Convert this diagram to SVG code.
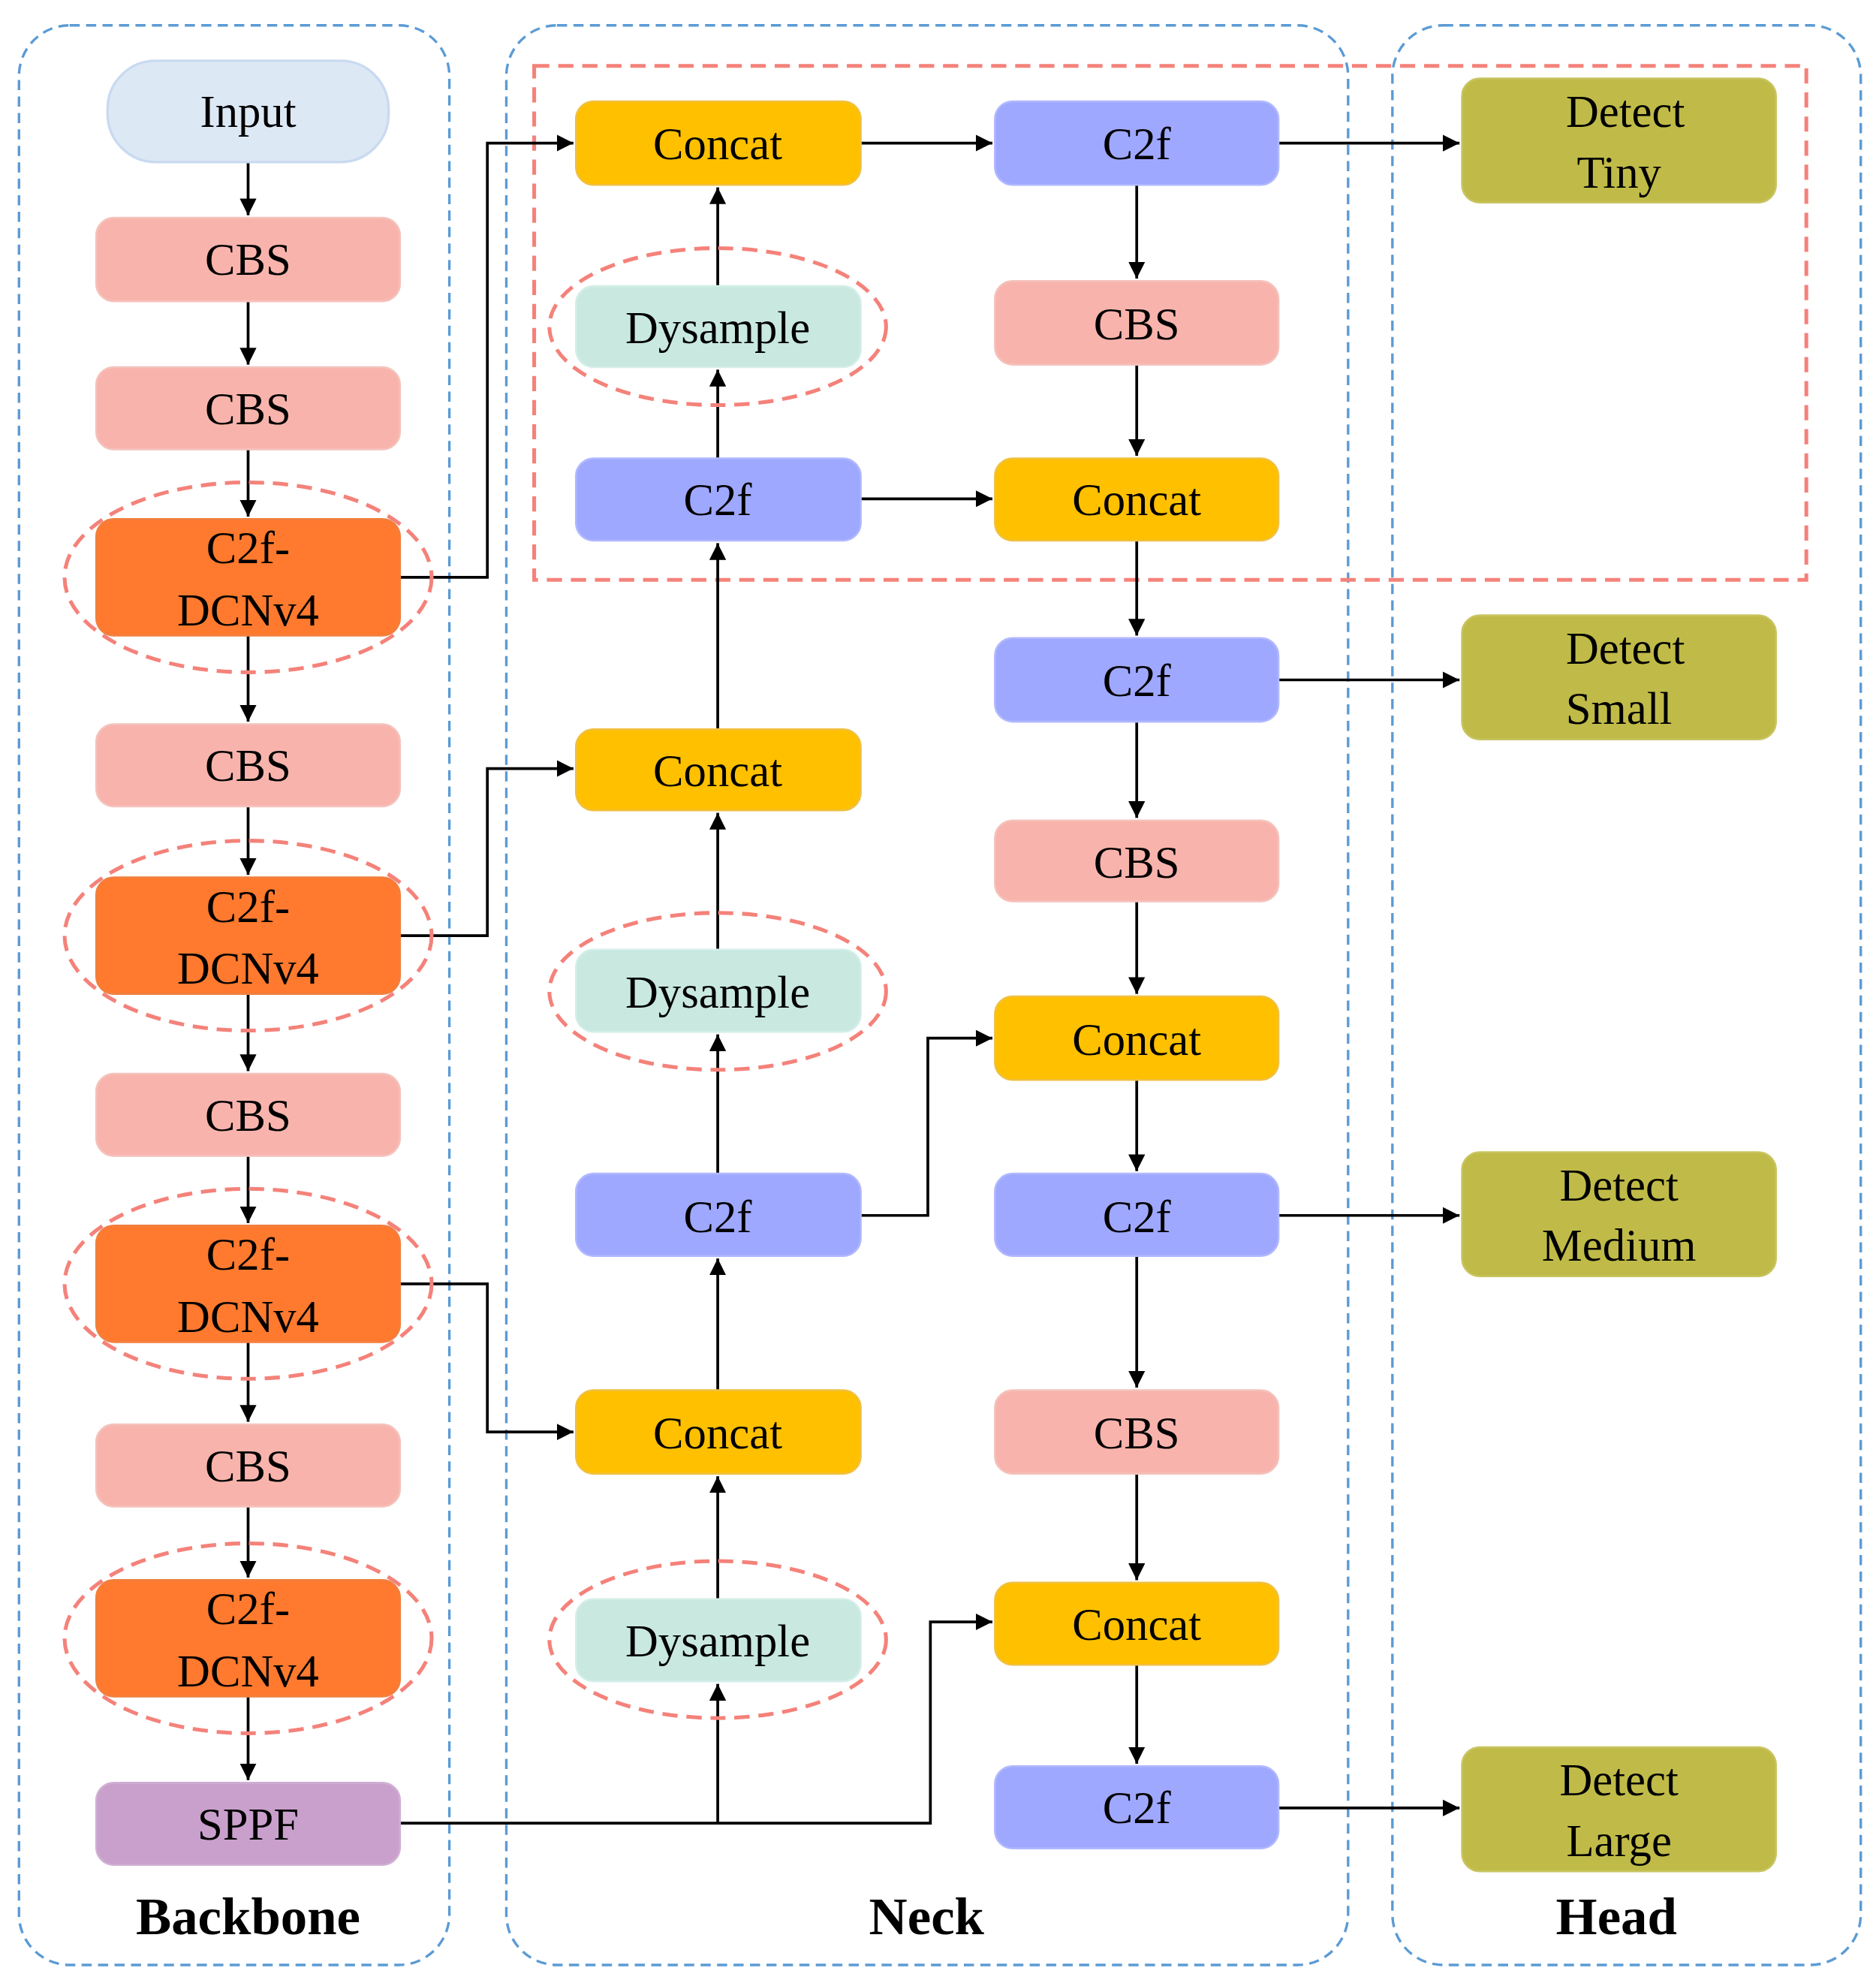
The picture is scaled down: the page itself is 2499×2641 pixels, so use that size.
<svg xmlns="http://www.w3.org/2000/svg" width="2499" height="2641" viewBox="0 0 2499 2641">
<defs>
<marker id="ah" viewBox="0 0 10 10" refX="10" refY="5" markerWidth="6" markerHeight="6" orient="auto" markerUnits="strokeWidth"><path d="M0,0 L10,5 L0,10 z" fill="#000"/></marker>
<style>
.pan{fill:none;stroke:#5b9bd5;stroke-width:2;stroke-dasharray:8,5}
.red{fill:none;stroke:#f4827a;stroke-width:3;stroke-dasharray:12,7}
.t{font-family:"Liberation Serif",serif;font-size:36px;text-anchor:middle;fill:#000}
.lb{font-family:"Liberation Serif",serif;font-size:42px;font-weight:bold;text-anchor:middle;fill:#000}
.cbs{fill:#f8b4ac;stroke:#f4c2bc;stroke-width:1.5}
.dcn{fill:#ff7a2e;stroke:#f08040;stroke-width:1.5}
.cc{fill:#ffc000;stroke:#f0c040;stroke-width:1.5}
.c2f{fill:#9fa8ff;stroke:#b0b8ff;stroke-width:1.5}
.dy{fill:#c8e8e0;stroke:#d4eee8;stroke-width:1.5}
.det{fill:#c0bb48;stroke:#c8c460;stroke-width:1.5}
.ln{fill:none;stroke:#000;stroke-width:2.2}
.ar{fill:none;stroke:#000;stroke-width:2.2;marker-end:url(#ah)}
</style>
</defs>
<rect width="2499" height="2641" fill="#fff"/>
<g transform="scale(1.6862)">
<g id="panels">
<rect class="pan" x="15" y="20" width="340" height="1532" rx="40"/>
<rect class="pan" x="400" y="20" width="665" height="1532" rx="40"/>
<rect class="pan" x="1100" y="20" width="370" height="1532" rx="40"/>
<rect class="red" x="422" y="52" width="1005" height="406"/>
<text class="lb" x="196" y="1528">Backbone</text>
<text class="lb" x="732" y="1528">Neck</text>
<text class="lb" x="1277" y="1528">Head</text>
</g>
<g id="connectors">
<path class="ar" d="M196,128 V170"/>
<path class="ar" d="M196,238 V288"/>
<path class="ar" d="M196,355 V408"/>
<path class="ar" d="M196,502 V570"/>
<path class="ar" d="M196,637 V691"/>
<path class="ar" d="M196,785 V846"/>
<path class="ar" d="M196,913 V966"/>
<path class="ar" d="M196,1060 V1123"/>
<path class="ar" d="M196,1190 V1246"/>
<path class="ar" d="M196,1340 V1406"/>
<path class="ar" d="M316,456 H385 V113 H453"/>
<path class="ar" d="M316,739 H385 V607 H453"/>
<path class="ar" d="M316,1014 H385 V1131 H453"/>
<path class="ar" d="M316,1440 H735 V1281 H784"/>
<path class="ar" d="M567,1440 V1330"/>
<path class="ar" d="M567,1263 V1166"/>
<path class="ar" d="M567,1098 V994"/>
<path class="ar" d="M567,927 V817"/>
<path class="ar" d="M567,750 V642"/>
<path class="ar" d="M567,576 V429"/>
<path class="ar" d="M567,362 V292"/>
<path class="ar" d="M567,226 V148"/>
<path class="ar" d="M680,960 H733 V820 H784"/>
<path class="ar" d="M680,394 H784"/>
<path class="ar" d="M680,113 H784"/>
<path class="ar" d="M898,146 V220"/>
<path class="ar" d="M898,288 V360"/>
<path class="ar" d="M898,427 V502"/>
<path class="ar" d="M898,570 V646"/>
<path class="ar" d="M898,712 V785"/>
<path class="ar" d="M898,853 V925"/>
<path class="ar" d="M898,992 V1096"/>
<path class="ar" d="M898,1164 V1248"/>
<path class="ar" d="M898,1315 V1393"/>
<path class="ar" d="M1010,113 H1153"/>
<path class="ar" d="M1010,537 H1153"/>
<path class="ar" d="M1010,960 H1153"/>
<path class="ar" d="M1010,1428 H1153"/>
</g>
<g id="backbone">
<g id="input"><rect x="85" y="48" width="222" height="80" rx="38" fill="#dde8f5" stroke="#c9daf0" stroke-width="2"/><text class="t" x="196" y="100">Input</text></g>
<g id="b_cbs1"><rect class="cbs" x="76" y="172" width="240" height="66" rx="14"/><text class="t" x="196" y="217">CBS</text></g>
<g id="b_cbs2"><rect class="cbs" x="76" y="290" width="240" height="65" rx="14"/><text class="t" x="196" y="335">CBS</text></g>
<g id="b_dcn1"><rect class="dcn" x="76" y="410" width="240" height="92" rx="14"/><ellipse class="red" cx="196" cy="456" rx="145" ry="75"/><text class="t" x="196" y="445">C2f-</text><text class="t" x="196" y="494">DCNv4</text></g>
<g id="b_cbs3"><rect class="cbs" x="76" y="572" width="240" height="65" rx="14"/><text class="t" x="196" y="617">CBS</text></g>
<g id="b_dcn2"><rect class="dcn" x="76" y="693" width="240" height="92" rx="14"/><ellipse class="red" cx="196" cy="739" rx="145" ry="75"/><text class="t" x="196" y="728">C2f-</text><text class="t" x="196" y="777">DCNv4</text></g>
<g id="b_cbs4"><rect class="cbs" x="76" y="848" width="240" height="65" rx="14"/><text class="t" x="196" y="893">CBS</text></g>
<g id="b_dcn3"><rect class="dcn" x="76" y="968" width="240" height="92" rx="14"/><ellipse class="red" cx="196" cy="1014" rx="145" ry="75"/><text class="t" x="196" y="1003">C2f-</text><text class="t" x="196" y="1052">DCNv4</text></g>
<g id="b_cbs5"><rect class="cbs" x="76" y="1125" width="240" height="65" rx="14"/><text class="t" x="196" y="1170">CBS</text></g>
<g id="b_dcn4"><rect class="dcn" x="76" y="1248" width="240" height="92" rx="14"/><ellipse class="red" cx="196" cy="1294" rx="145" ry="75"/><text class="t" x="196" y="1283">C2f-</text><text class="t" x="196" y="1332">DCNv4</text></g>
<g id="sppf"><rect x="76" y="1408" width="240" height="65" rx="14" fill="#c9a0cc" stroke="#d0b0d4" stroke-width="1.5"/><text class="t" x="196" y="1453">SPPF</text></g>
</g>
<g id="neck1">
<g id="n_cc1"><rect class="cc" x="455" y="80" width="225" height="66" rx="14"/><text class="t" x="567" y="126">Concat</text></g>
<g id="n_dy1"><rect class="dy" x="455" y="226" width="225" height="64" rx="14"/><ellipse class="red" cx="567" cy="258" rx="133" ry="62"/><text class="t" x="567" y="271">Dysample</text></g>
<g id="n_c2f1"><rect class="c2f" x="455" y="362" width="225" height="65" rx="14"/><text class="t" x="567" y="407">C2f</text></g>
<g id="n_cc2"><rect class="cc" x="455" y="576" width="225" height="64" rx="14"/><text class="t" x="567" y="621">Concat</text></g>
<g id="n_dy2"><rect class="dy" x="455" y="750" width="225" height="65" rx="14"/><ellipse class="red" cx="567" cy="783" rx="133" ry="62"/><text class="t" x="567" y="796">Dysample</text></g>
<g id="n_c2f2"><rect class="c2f" x="455" y="927" width="225" height="65" rx="14"/><text class="t" x="567" y="973">C2f</text></g>
<g id="n_cc3"><rect class="cc" x="455" y="1098" width="225" height="66" rx="14"/><text class="t" x="567" y="1144">Concat</text></g>
<g id="n_dy3"><rect class="dy" x="455" y="1263" width="225" height="65" rx="14"/><ellipse class="red" cx="567" cy="1295" rx="133" ry="62"/><text class="t" x="567" y="1308">Dysample</text></g>
</g>
<g id="neck2">
<g id="m_c2f1"><rect class="c2f" x="786" y="80" width="224" height="66" rx="14"/><text class="t" x="898" y="126">C2f</text></g>
<g id="m_cbs1"><rect class="cbs" x="786" y="222" width="224" height="66" rx="14"/><text class="t" x="898" y="268">CBS</text></g>
<g id="m_cc1"><rect class="cc" x="786" y="362" width="224" height="65" rx="14"/><text class="t" x="898" y="407">Concat</text></g>
<g id="m_c2f2"><rect class="c2f" x="786" y="504" width="224" height="66" rx="14"/><text class="t" x="898" y="550">C2f</text></g>
<g id="m_cbs2"><rect class="cbs" x="786" y="648" width="224" height="64" rx="14"/><text class="t" x="898" y="693">CBS</text></g>
<g id="m_cc2"><rect class="cc" x="786" y="787" width="224" height="66" rx="14"/><text class="t" x="898" y="833">Concat</text></g>
<g id="m_c2f3"><rect class="c2f" x="786" y="927" width="224" height="65" rx="14"/><text class="t" x="898" y="973">C2f</text></g>
<g id="m_cbs3"><rect class="cbs" x="786" y="1098" width="224" height="66" rx="14"/><text class="t" x="898" y="1144">CBS</text></g>
<g id="m_cc3"><rect class="cc" x="786" y="1250" width="224" height="65" rx="14"/><text class="t" x="898" y="1295">Concat</text></g>
<g id="m_c2f4"><rect class="c2f" x="786" y="1395" width="224" height="65" rx="14"/><text class="t" x="898" y="1440">C2f</text></g>
</g>
<g id="head">
<g id="d_tiny"><rect class="det" x="1155" y="62" width="248" height="98" rx="14"/><text class="t" x="1284" y="100">Detect</text><text class="t" x="1279" y="148">Tiny</text></g>
<g id="d_small"><rect class="det" x="1155" y="486" width="248" height="98" rx="14"/><text class="t" x="1284" y="524">Detect</text><text class="t" x="1279" y="572">Small</text></g>
<g id="d_med"><rect class="det" x="1155" y="910" width="248" height="98" rx="14"/><text class="t" x="1279" y="948">Detect</text><text class="t" x="1279" y="996">Medium</text></g>
<g id="d_large"><rect class="det" x="1155" y="1380" width="248" height="98" rx="14"/><text class="t" x="1279" y="1418">Detect</text><text class="t" x="1279" y="1466">Large</text></g>
</g>
</g>
</svg>
